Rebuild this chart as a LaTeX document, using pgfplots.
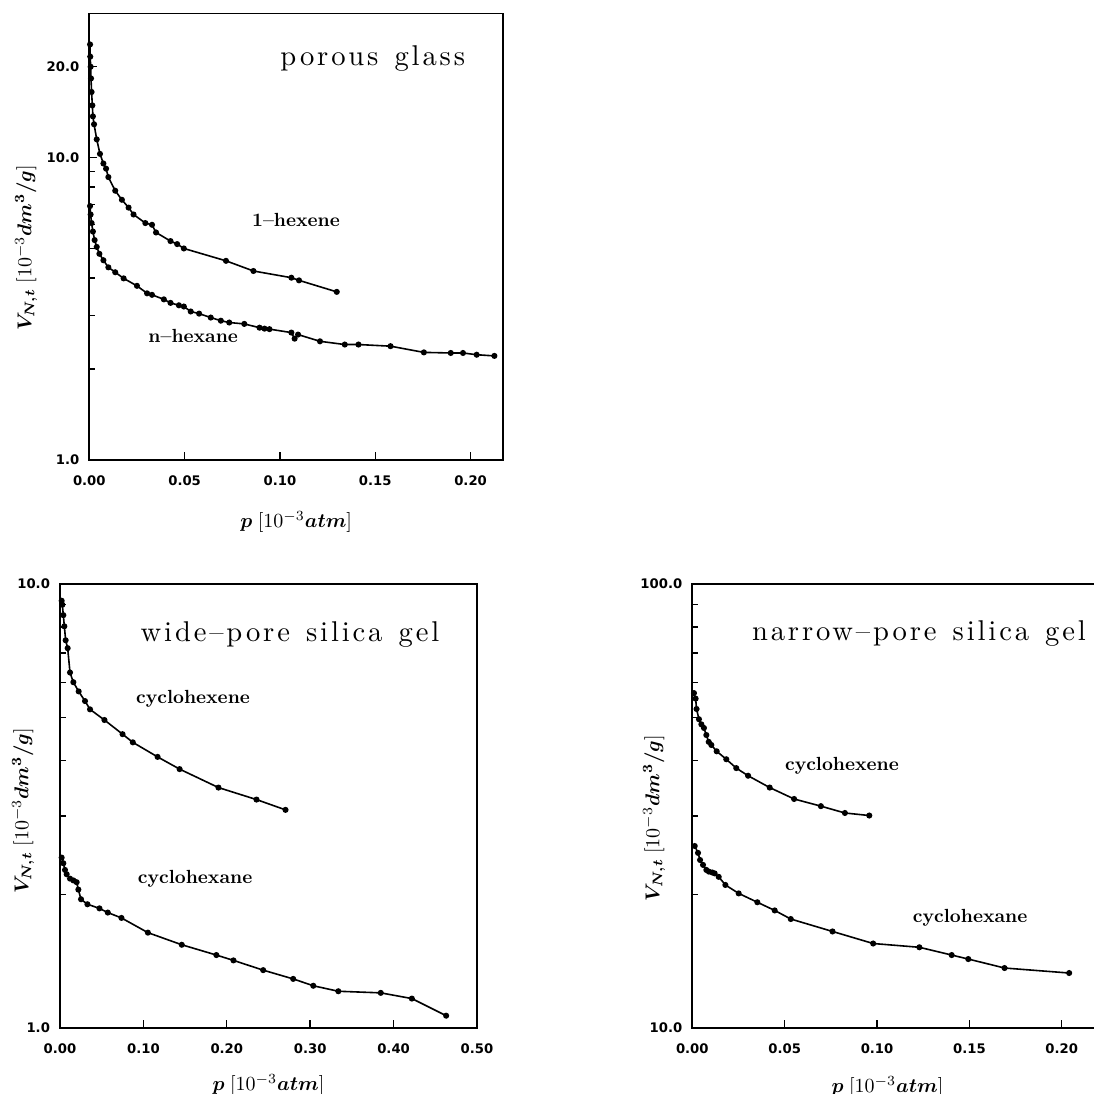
\documentclass[border=0pt]{standalone}
\usepackage{fontspec}
\usepackage{bm}
\usepackage{pgfplots}
\pgfplotsset{compat=1.18}
\newfontfamily\tickfont{DejaVu Sans}
\newfontfamily\ttlfont{lmroman10-regular}[Extension=.otf, LetterSpace=10, WordSpace=1.3]
\newcommand\ttl[1]{{\ttlfont\fontsize{14.3}{16}\selectfont #1}}
\newcommand\crv[1]{{\fontsize{9.5}{11}\selectfont\bfseries #1}}
\pgfplotsset{
 every axis/.append style={
   scale only axis, tick pos=left, tick align=inside,
   major tick length=4pt, minor tick length=3pt,
   axis line style={line width=0.9pt},
   every tick/.style={line width=0.7pt, black},
   ticklabel style={font=\tickfont\bfseries\fontsize{6.6}{8}\selectfont},
   xticklabel style={yshift=-4.5pt},
   yticklabel style={xshift=-1.5pt},
   label style={font=\fontsize{10}{12}\selectfont},
   clip=false,
 },
 crvs/.style={black, line width=0.8pt, mark=*, mark size=1.1pt},
}
\begin{document}
\begin{tikzpicture}
% ---------------- porous glass
\begin{axis}[ymode=log, at={(44.65pt,-230pt)}, anchor=south west,
  width=206.85pt, height=223.25pt,
  xmin=0, xmax=0.217, ymin=1, ymax=30,
  xtick={0,0.05,0.10,0.15,0.20}, xticklabels={0.00,0.05,0.10,0.15,0.20},
  ytick={1,10,20}, yticklabels={1.0,10.0,20.0}, minor ytick={2,3,4,5,6,7,8,9},
  xlabel={$\bm{p}\;[10^{-3}\bm{atm}]$},
  xlabel style={at={(axis description cs:0.5,-0.139)}, anchor=center},
  ylabel={$\bm{V_{N,t}}\;[10^{-3}\bm{dm^3/g}]$},
  ylabel style={at={(axis description cs:-0.153,0.475)}, anchor=center}]
\addplot[crvs] coordinates {(0.0004,23.7)(0.0005,21.6)(0.0007,20.0)(0.0009,18.3)(0.0012,16.5)(0.0016,14.9)(0.0019,13.7)(0.0025,12.9)(0.0039,11.5)(0.0056,10.3)(0.0074,9.57)(0.0088,9.2)(0.010,8.63)(0.0136,7.78)(0.0171,7.26)(0.0206,6.84)(0.0232,6.49)(0.0294,6.08)(0.0329,6.0)(0.035,5.66)(0.0426,5.30)(0.0461,5.18)(0.0496,5.01)(0.0717,4.56)(0.0861,4.22)(0.106,4.01)(0.110,3.93)(0.1298,3.60)};
\addplot[crvs] coordinates {(0.0004,6.92)(0.0007,6.49)(0.0012,6.08)(0.0019,5.70)(0.0028,5.34)(0.0039,5.07)(0.0053,4.81)(0.0074,4.58)(0.0100,4.34)(0.0136,4.18)(0.018,3.99)(0.025,3.77)(0.0303,3.56)(0.0329,3.52)(0.0391,3.40)(0.0426,3.31)(0.047,3.25)(0.0496,3.22)(0.0532,3.10)(0.0576,3.05)(0.0637,2.96)(0.069,2.89)(0.0734,2.85)(0.0813,2.82)(0.0893,2.74)(0.0919,2.72)(0.0945,2.71)(0.106,2.64)(0.1077,2.52)(0.1095,2.60)(0.121,2.47)(0.134,2.41)(0.1412,2.41)(0.158,2.38)(0.1755,2.27)(0.1896,2.26)(0.196,2.26)(0.2032,2.23)(0.2125,2.21)};
\node[anchor=base] at (axis cs:0.1487,20.2) {\ttl{porous glass}};
\node[anchor=base] at (axis cs:0.1084,5.93) {\crv{1--hexene}};
\node[anchor=base] at (axis cs:0.0545,2.44) {\crv{n--hexane}};
\end{axis}
% ---------------- wide-pore silica gel
\begin{axis}[ymode=log, at={(30pt,-514pt)}, anchor=south west,
  width=208.5pt, height=222pt,
  xmin=0, xmax=0.5, ymin=1, ymax=10,
  xtick={0,0.1,0.2,0.3,0.4,0.5}, xticklabels={0.00,0.10,0.20,0.30,0.40,0.50},
  ytick={1,10}, yticklabels={1.0,10.0}, minor ytick={2,3,4,5,6,7,8,9},
  xlabel={$\bm{p}\;[10^{-3}\bm{atm}]$},
  xlabel style={at={(axis description cs:0.5,-0.128)}, anchor=center},
  ylabel={$\bm{V_{N,t}}\;[10^{-3}\bm{dm^3/g}]$},
  ylabel style={at={(axis description cs:-0.0887,0.489)}, anchor=center}]
\addplot[crvs] coordinates {(0.002,9.17)(0.0028,8.98)(0.004,8.51)(0.0052,8.03)(0.0068,7.47)(0.0092,7.17)(0.012,6.32)(0.016,6.01)(0.0224,5.73)(0.030,5.45)(0.036,5.22)(0.0533,4.94)(0.075,4.59)(0.0873,4.40)(0.117,4.08)(0.1434,3.83)(0.190,3.48)(0.2356,3.27)(0.2704,3.10)};
\addplot[crvs] coordinates {(0.002,2.42)(0.004,2.35)(0.006,2.27)(0.008,2.22)(0.012,2.17)(0.016,2.15)(0.020,2.13)(0.022,2.05)(0.0252,1.95)(0.0329,1.90)(0.0473,1.86)(0.0573,1.82)(0.0737,1.77)(0.1054,1.64)(0.146,1.54)(0.1875,1.46)(0.208,1.42)(0.2436,1.35)(0.2796,1.29)(0.3037,1.245)(0.3337,1.21)(0.3846,1.20)(0.4219,1.165)(0.463,1.066)};
\node[anchor=base] at (axis cs:0.2758,7.41) {\ttl{wide\textendash pore silica gel}};
\node[anchor=base] at (axis cs:0.1595,5.37) {\crv{cyclohexene}};
\node[anchor=base] at (axis cs:0.162,2.12) {\crv{cyclohexane}};
\end{axis}
% ---------------- narrow-pore silica gel
\begin{axis}[ymode=log, at={(346.15pt,-514pt)}, anchor=south west,
  width=207pt, height=222pt,
  xmin=0, xmax=0.2241, ymin=10, ymax=100,
  xtick={0,0.05,0.10,0.15,0.20}, xticklabels={0.00,0.05,0.10,0.15,0.20},
  ytick={10,100}, yticklabels={10.0,100.0}, minor ytick={20,30,40,50,60,70,80,90},
  xlabel={$\bm{p}\;[10^{-3}\bm{atm}]$},
  xlabel style={at={(axis description cs:0.4715,-0.133)}, anchor=center},
  ylabel={$\bm{V_{N,t}}\;[10^{-3}\bm{dm^3/g}]$},
  ylabel style={at={(axis description cs:-0.0925,0.473)}, anchor=center}]
\addplot[crvs] coordinates {(0.0009,56.8)(0.0018,55.2)(0.0023,52.3)(0.0036,49.6)(0.0049,48.3)(0.0063,47.4)(0.0076,45.7)(0.0089,44.1)(0.0103,43.4)(0.0132,42.0)(0.0184,40.3)(0.0238,38.5)(0.0302,37.0)(0.0419,34.8)(0.0551,32.8)(0.0696,31.6)(0.0826,30.5)(0.0958,30.1)};
\addplot[crvs] coordinates {(0.0013,25.7)(0.0031,24.8)(0.0042,23.9)(0.0058,23.3)(0.0076,22.7)(0.009,22.5)(0.0108,22.4)(0.0121,22.3)(0.0143,21.9)(0.0179,21.0)(0.0251,20.1)(0.0352,19.2)(0.0446,18.4)(0.0533,17.6)(0.0759,16.5)(0.0979,15.5)(0.1229,15.2)(0.1404,14.6)(0.1494,14.3)(0.169,13.65)(0.204,13.3)};
\node[anchor=base] at (axis cs:0.1227,74.8) {\ttl{narrow\textendash pore silica gel}};
\node[anchor=base] at (axis cs:0.081,38.1) {\crv{cyclohexene}};
\node[anchor=base] at (axis cs:0.1504,17.3) {\crv{cyclohexane}};
\end{axis}
\pgfresetboundingbox
\path[use as bounding box] (0,0) rectangle (547pt,-547pt);
\end{tikzpicture}
\end{document}
